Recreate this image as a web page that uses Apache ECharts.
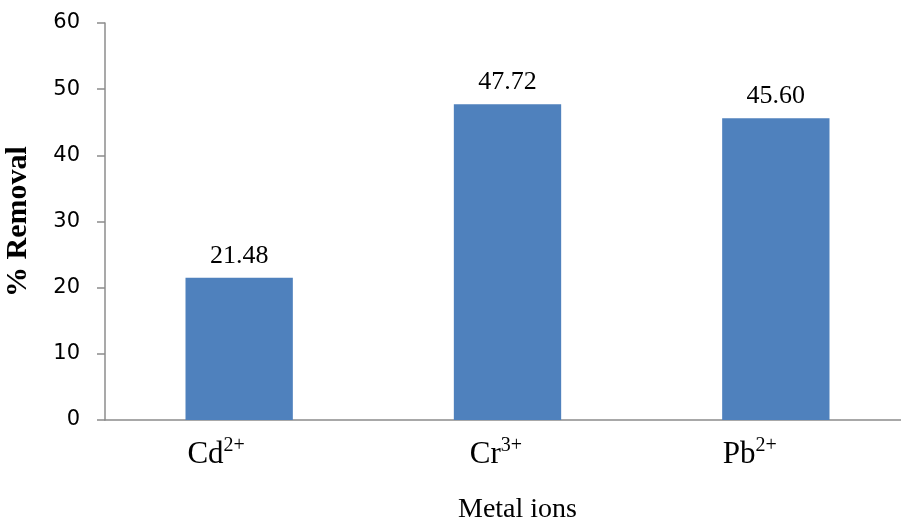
<!DOCTYPE html>
<html>
<head>
<meta charset="utf-8">
<script src="https://cdn.jsdelivr.net/npm/echarts@6/dist/echarts.min.js"></script>
<style>html,body{margin:0;padding:0;background:#fff;}#c{width:901px;height:519px;}</style>
</head>
<body>
<div id="c"></div>
<script>
var categories = ['Cd', 'Cr', 'Pb'];
var charges = ['2+', '3+', '2+'];
var removal = [21.48, 47.72, 45.60];
var yTicks = { min: 0, max: 60, interval: 10 };

// label offsets (layout only)
var labelPadRight = [46, 23, 52];

var chart = echarts.init(document.getElementById('c'));
chart.setOption({
  animation: false,
  grid: { left: 105, top: 23, width: 805, height: 397, outerBoundsMode: 'none', containLabel: false },
  xAxis: {
    type: 'category',
    data: categories.map(function (c, i) {
      return { value: c, textStyle: { padding: [0, labelPadRight[i], 0, 0] } };
    }),
    name: 'Metal ions',
    nameLocation: 'middle',
    nameGap: 76,
    nameTextStyle: { fontFamily: 'Liberation Serif', fontSize: 28, color: '#000', padding: [0, 0, 0, 20] },
    axisLine: { lineStyle: { color: '#8c8c8c', width: 1.5 } },
    axisTick: { show: false },
    axisLabel: {
      margin: 16,
      formatter: function (v, i) { return '{a|' + v + '}{b|' + charges[i] + '}'; },
      rich: {
        a: { fontFamily: 'Liberation Serif', fontSize: 31, color: '#000', lineHeight: 34, verticalAlign: 'bottom' },
        b: { fontFamily: 'Liberation Serif', fontSize: 20, color: '#000', lineHeight: 34, verticalAlign: 'top', padding: [0, 0, 16, 0] }
      }
    }
  },
  yAxis: {
    type: 'value',
    min: yTicks.min, max: yTicks.max, interval: yTicks.interval,
    name: '% Removal',
    nameLocation: 'middle',
    nameGap: 72,
    nameTextStyle: { fontFamily: 'Liberation Serif', fontWeight: 'bold', fontSize: 30, color: '#000' },
    axisLine: { show: true, lineStyle: { color: '#8c8c8c', width: 1.5 } },
    axisTick: { show: true, length: 8, lineStyle: { color: '#8c8c8c', width: 1.5 } },
    splitLine: { show: false },
    axisLabel: { margin: 25, fontFamily: 'DejaVu Sans', fontSize: 21, color: '#000' }
  },
  series: [{
    type: 'bar',
    data: removal,
    barWidth: '40%',
    itemStyle: { color: '#4F81BD' },
    label: {
      show: true, position: 'top', distance: 9,
      formatter: function (p) { return p.value.toFixed(2); },
      fontFamily: 'Liberation Serif', fontSize: 26, color: '#000'
    }
  }]
});
</script>
</body>
</html>
